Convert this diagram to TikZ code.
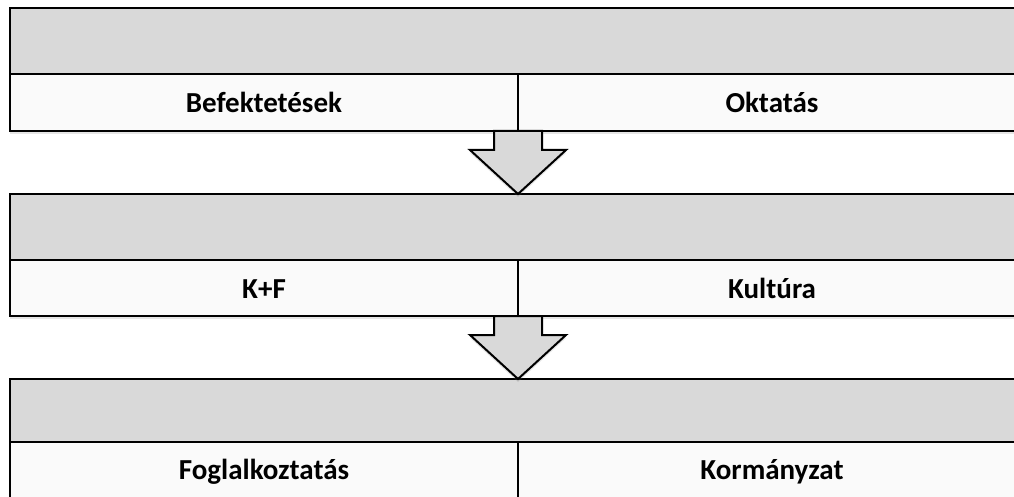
\documentclass[tikz,border=0pt]{standalone}
\usepackage{fontspec}
\setmainfont{Carlito}
\usetikzlibrary{positioning,calc,shadows}
\definecolor{headgray}{HTML}{D9D9D9}
\definecolor{cellwhite}{HTML}{FAFAFA}
\tikzset{
  headbar/.style={draw=black, line width=2pt, fill=headgray, inner sep=0pt, outer sep=0pt,
    minimum width=1016pt, minimum height=66pt, anchor=north west,
    drop shadow={shadow xshift=0pt, shadow yshift=-3pt, opacity=.2}},
  cellbox/.style={draw=black, line width=2pt, fill=cellwhite, inner sep=0pt, outer sep=0pt,
    minimum width=508pt, minimum height=57pt, anchor=north west,
    text height=21pt, text depth=0pt,
    font=\bfseries\fontsize{29}{34}\selectfont,
    drop shadow={shadow xshift=0pt, shadow yshift=-3pt, opacity=.2}},
  downarrow/.style={draw=black, line width=2pt, fill=headgray, line join=miter,
    drop shadow={shadow xshift=0pt, shadow yshift=-3pt, opacity=.2}}
}
\begin{document}
\begin{tikzpicture}[x=1pt, y=-1pt]
\clip (0,0) rectangle (1014,497);
\fill[white] (0,0) rectangle (1014,497);

% first block
\node[headbar] (head1) at (10,8) {};
\node[cellbox] (bef) at (head1.south west) {Befektetések};
\node[cellbox] (okt) at (bef.north east) {Oktatás};

% second block
\node[headbar] (head2) at (10,194) {};
\node[cellbox, minimum height=56pt] (kf) at (head2.south west) {K+F};
\node[cellbox, minimum height=56pt] (kult) at (kf.north east) {Kultúra};

% third block
\node[headbar, minimum height=63pt] (head3) at (10,379) {};
\node[cellbox, text depth=3pt] (fogl) at (head3.south west) {Foglalkoztatás};
\node[cellbox, text depth=3pt] (korm) at (fogl.north east) {Kormányzat};

% arrows between the blocks
\draw[downarrow] ([xshift=-24pt]bef.south east) -- ++(0,19) -- ++(-24,0) -- (head2.north)
  -- ++(48,-44) -- ++(-24,0) -- ([xshift=24pt]bef.south east) -- cycle;
\draw[downarrow] ([xshift=-24pt]kf.south east) -- ++(0,19) -- ++(-24,0) -- (head3.north)
  -- ++(48,-44) -- ++(-24,0) -- ([xshift=24pt]kf.south east) -- cycle;
\end{tikzpicture}
\end{document}
